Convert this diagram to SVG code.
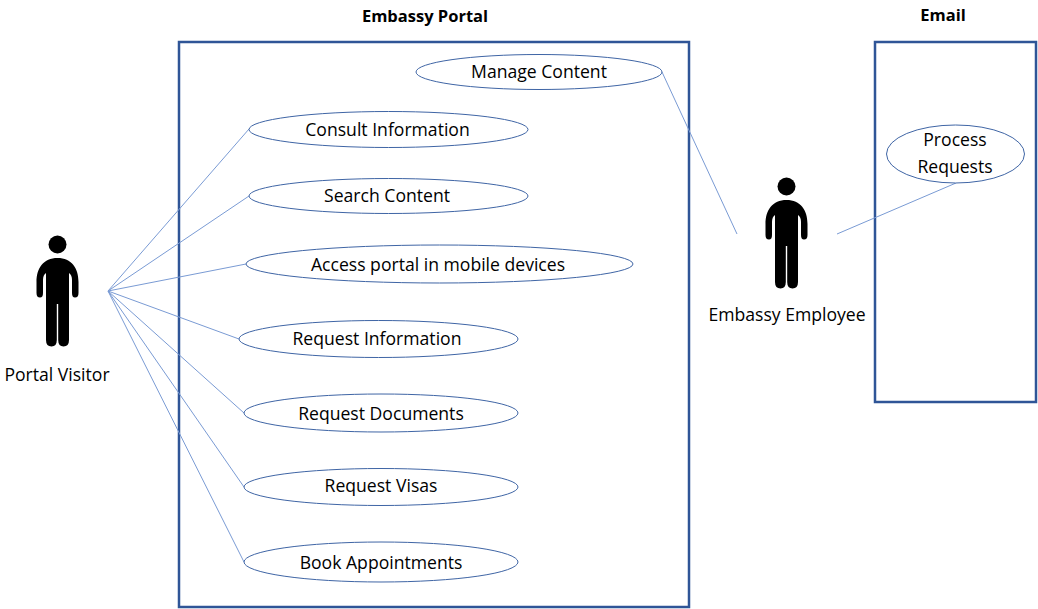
<svg xmlns="http://www.w3.org/2000/svg" width="1038" height="609" viewBox="0 0 1038 609">
<defs>
<style>
text{font-family:"Open Sans","Noto Sans","Liberation Sans",sans-serif;font-size:17.6px;fill:#000;text-anchor:middle}
.b{font-weight:700;font-size:16.500px}
.box{fill:none;stroke:#2f5597;stroke-width:2.5}
.uc{fill:#fff;stroke:#3f65a5;stroke-width:1}
.c{stroke:#7a9bd4;stroke-width:1;fill:none}
</style>
<g id="person"><circle cx="0" cy="-13.500" r="9" fill="#000"/><path d="M0 0C-14 0-21 10-21 24V35Q-21 39.500-17.500 39.500Q-14.500 39.500-14.500 35V22Q-14.500 17-11.500 15V82Q-11.500 88.500-6 88.500Q-.7 88.500-.7 82V46H.7V82Q.7 88.500 6 88.500Q11.500 88.500 11.500 82V15Q14.500 17 14.500 22V35Q14.500 39.500 17.500 39.500Q21 39.500 21 35V24C21 10 14 0 0 0Z" fill="#000"/></g>
</defs>
<rect width="1038" height="609" fill="#fff"/>
<g id="boundaries">
<g id="portal"><rect class="box" x="179" y="42" width="510" height="565"/><text class="b" x="425" y="22">Embassy Portal</text></g>
<g id="email"><rect class="box" x="875" y="42" width="161" height="360"/><text class="b" x="943" y="21">Email</text></g>
</g>
<g id="connectors">
<path class="c" d="M108 291L249 129M108 291L249 196M108 291L246 264M108 291L239 339M108 291L244 413M108 291L244 487M108 291L244 562M662 72L737 234M837 234L956 183"/>
</g>
<g id="uc-manage"><ellipse class="uc" cx="539" cy="72" rx="123" ry="17.500"/><text x="539" y="78">Manage Content</text></g>
<g id="uc-consult"><ellipse class="uc" cx="388.500" cy="129.500" rx="139.500" ry="18"/><text x="387.500" y="136">Consult Information</text></g>
<g id="uc-search"><ellipse class="uc" cx="388.500" cy="196" rx="139.500" ry="17.500"/><text x="387" y="202">Search Content</text></g>
<g id="uc-access"><ellipse class="uc" cx="439.500" cy="264" rx="193.500" ry="19"/><text x="438" y="271">Access portal in mobile devices</text></g>
<g id="uc-reqinfo"><ellipse class="uc" cx="378.500" cy="339" rx="139.500" ry="18.500"/><text x="377" y="345">Request Information</text></g>
<g id="uc-reqdocs"><ellipse class="uc" cx="381" cy="413" rx="137" ry="19"/><text x="381" y="420">Request Documents</text></g>
<g id="uc-reqvisas"><ellipse class="uc" cx="381" cy="487" rx="137" ry="18.500"/><text x="381" y="492">Request Visas</text></g>
<g id="uc-book"><ellipse class="uc" cx="381" cy="562" rx="137" ry="20"/><text x="381" y="569">Book Appointments</text></g>
<g id="uc-process"><ellipse class="uc" cx="955.500" cy="154" rx="69" ry="29"/><text x="955" y="146">Process</text><text x="955" y="173">Requests</text></g>
<g id="actor-visitor"><use href="#person" x="57.500" y="258"/><text x="57" y="381">Portal Visitor</text></g>
<g id="actor-employee"><use href="#person" x="786.500" y="200"/><text x="787" y="321">Embassy Employee</text></g>
</svg>
